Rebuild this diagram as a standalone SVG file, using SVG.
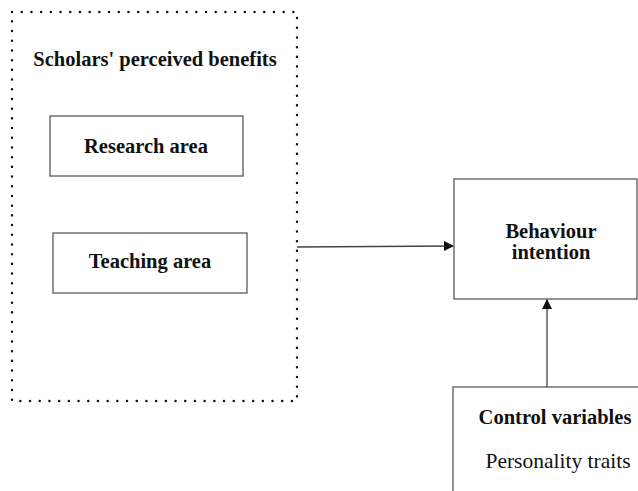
<svg xmlns="http://www.w3.org/2000/svg" width="638" height="491" viewBox="0 0 638 491">
<style>
.bx{fill:#fff;stroke:#595959;stroke-width:1.3}
.b{font-family:"Liberation Serif","Times New Roman",serif;font-weight:bold;font-size:20.5px;fill:#111;text-anchor:middle}
.r{font-family:"Liberation Serif","Times New Roman",serif;font-size:21.5px;fill:#111;text-anchor:middle}
.ln{stroke:#444;stroke-width:1.3;fill:none}
</style>
<defs>
<marker id="ah" markerWidth="10" markerHeight="10" refX="9" refY="5" orient="auto" markerUnits="userSpaceOnUse">
<path d="M0,0 L10,5 L0,10 z" fill="#111"/>
</marker>
</defs>
<rect x="0" y="0" width="638" height="491" fill="#fff"/>
<g id="benefits">
<rect x="12" y="12" width="285" height="389" fill="none" stroke="#111" stroke-width="2.4" stroke-dasharray="0.1 9.6" stroke-linecap="round"/>
<text class="b" x="155" y="66">Scholars' perceived benefits</text>
</g>
<g id="research">
<rect class="bx" x="50" y="116" width="193" height="60"/>
<text class="b" x="146" y="153">Research area</text>
</g>
<g id="teaching">
<rect class="bx" x="53" y="233" width="194" height="60"/>
<text class="b" x="150" y="268">Teaching area</text>
</g>
<g id="behaviour">
<rect class="bx" x="454" y="179" width="183" height="120"/>
<text class="b" x="551" y="238">Behaviour</text>
<text class="b" x="551" y="259">intention</text>
</g>
<g id="control">
<rect class="bx" x="453" y="387" width="190" height="110"/>
<text class="b" x="555" y="424">Control variables</text>
<text class="r" x="558" y="468">Personality traits</text>
</g>
<g id="connectors">
<line class="ln" x1="297" y1="247" x2="453" y2="246" marker-end="url(#ah)"/>
<line class="ln" x1="547" y1="387" x2="547" y2="300" marker-end="url(#ah)"/>
</g>
</svg>
